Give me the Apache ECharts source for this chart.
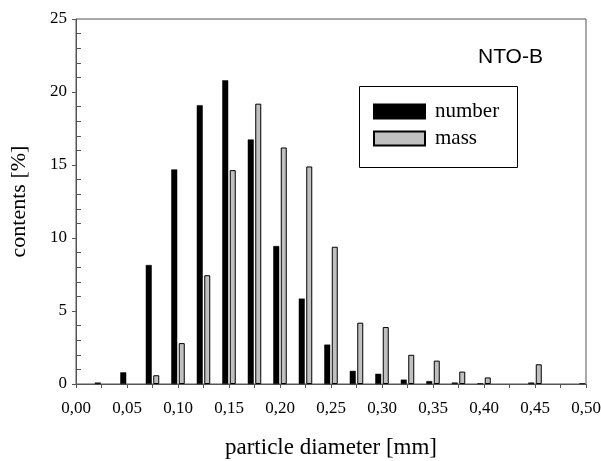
<!DOCTYPE html>
<html>
<head>
<meta charset="utf-8">
<script src="https://cdn.jsdelivr.net/npm/echarts@6/dist/echarts.min.js"></script>
<style>
  html, body { margin: 0; padding: 0; background: #fff; }
  #chart { width: 601px; height: 461px; }
</style>
</head>
<body>
<div id="chart"></div>
<script>
// particle size classes [mm]
const diameters = [0.025, 0.05, 0.075, 0.1, 0.125, 0.15, 0.175, 0.2, 0.225, 0.25,
  0.275, 0.3, 0.325, 0.35, 0.375, 0.4, 0.425, 0.45, 0.475, 0.5]
// contents [%], null = no bar in that class
const numberValues = [0.1, 0.8, 8.15, 14.7, 19.1, 20.8, 16.75, 9.45, 5.85, 2.7,
  0.9, 0.7, 0.3, 0.2, 0.1, 0.05, null, 0.1, null, 0.05]
const massValues = [null, null, 0.6, 2.8, 7.45, 14.65, 19.2, 16.2, 14.9, 9.4,
  4.2, 3.9, 2.0, 1.6, 0.85, 0.45, null, 1.35, null, null]

const serif = 'Liberation Serif'
const frame = '#555'

const chart = echarts.init(document.getElementById('chart'))

const toPoints = (values) => diameters.map((d, i) => (values[i] == null ? [d, '-'] : [d, values[i]]))

chart.setOption({
  animation: false,
  grid: {
    left: 76, right: 15, top: 19, bottom: 77,
    outerBoundsMode: 'none',
    containLabel: false,
    show: true, borderColor: frame, borderWidth: 1, backgroundColor: 'transparent'
  },
  legend: {
    orient: 'vertical',
    left: 373,
    top: 101,
    padding: 0,
    itemWidth: 51,
    itemHeight: 14,
    itemGap: 6,
    icon: 'rect',
    textStyle: { fontFamily: serif, fontSize: 21, color: '#000', padding: [0, 0, 0, 5] },
    data: ['number', 'mass']
  },
  graphic: [
    {
      type: 'rect',
      left: 359, top: 86, z: 0,
      shape: { width: 158, height: 81 },
      style: { fill: '#fff', stroke: '#000', lineWidth: 1 }
    },
    {
      type: 'text',
      left: 478, top: 47,
      style: { text: 'NTO-B', font: '21px "Liberation Sans"', fill: '#000' }
    }
  ],
  xAxis: {
    type: 'value',
    min: 0, max: 0.5, interval: 0.05,
    name: 'particle diameter [mm]',
    nameLocation: 'middle',
    nameGap: 52,
    nameTextStyle: { fontFamily: serif, fontSize: 23, color: '#000' },
    axisLine: { lineStyle: { color: frame, width: 1 } },
    axisTick: { length: 4, lineStyle: { color: frame } },
    minorTick: { show: true, splitNumber: 2, length: 4, lineStyle: { color: frame } },
    axisLabel: {
      margin: 16,
      fontFamily: serif, fontSize: 17, color: '#000',
      formatter: (v) => v.toFixed(2).replace('.', ',')
    },
    splitLine: { show: false }
  },
  yAxis: [
    {
      type: 'value',
      min: 0, max: 25, interval: 5,
      name: 'contents [%]',
      nameLocation: 'middle',
      nameGap: 46,
      nameTextStyle: { fontFamily: serif, fontSize: 22, color: '#000' },
      axisLine: { show: true, lineStyle: { color: frame, width: 1 } },
      axisTick: { show: true, length: 4, lineStyle: { color: frame } },
      axisLabel: { margin: 9, fontFamily: serif, fontSize: 17, color: '#000' },
      splitLine: { show: false }
    },
    {
      type: 'value',
      position: 'left',
      min: 0, max: 25, interval: 5,
      axisLine: { show: false },
      axisTick: { show: false, inside: true },
      minorTick: { show: true, splitNumber: 5, length: 5, lineStyle: { color: frame } },
      axisLabel: { show: false },
      splitLine: { show: false }
    }
  ],
  series: [
    {
      name: 'number',
      type: 'bar',
      barWidth: 6,
      barGap: '25%',
      data: toPoints(numberValues),
      itemStyle: { color: '#000', borderColor: '#000', borderWidth: 0.5 }
    },
    {
      name: 'mass',
      type: 'bar',
      barWidth: 6,
      barGap: '25%',
      data: toPoints(massValues),
      itemStyle: { color: '#c0c0c0', borderColor: '#000', borderWidth: 1 }
    }
  ]
})
</script>
</body>
</html>
